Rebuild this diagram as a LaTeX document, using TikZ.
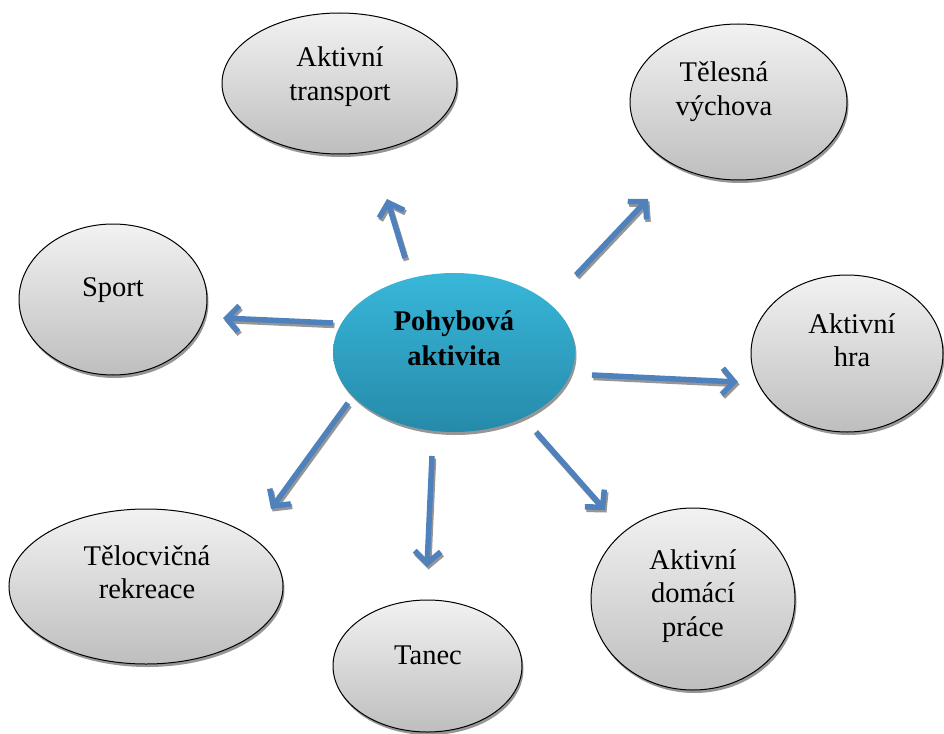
\documentclass[tikz,border=0pt]{standalone}
\usepackage{fontspec}
\setmainfont{Liberation Serif}
\usetikzlibrary{shapes.geometric,shadows,arrows.meta}
\definecolor{ovtop}{RGB}{242,242,242}
\definecolor{ovbot}{RGB}{190,190,190}
\definecolor{ctop}{RGB}{56,183,217}
\definecolor{cbot}{RGB}{38,138,170}
\definecolor{arrblue}{RGB}{79,129,189}
\definecolor{shgray}{RGB}{150,150,150}
\newcommand\mylines[1]{\begin{tabular}[t]{@{}c@{}}#1\end{tabular}}
\begin{document}
\begin{tikzpicture}[x=1pt,y=-1pt,
  oval/.style={ellipse, draw=black, line width=1pt, top color=ovtop, bottom color=ovbot,
    inner sep=0pt, outer sep=0pt,
    drop shadow={shadow xshift=1.5pt, shadow yshift=-3pt, fill=shgray, opacity=1}},
  core/.style={ellipse, draw=none, top color=ctop, bottom color=cbot,
    inner sep=0pt, outer sep=0pt,
    drop shadow={shadow xshift=1.5pt, shadow yshift=-3pt, fill=shgray, opacity=1}},
  lbl/.style={anchor=base, inner sep=0pt, outer sep=0pt, font=\fontsize{28.5}{33.5}\selectfont},
  arr/.style={line width=5.5pt, draw=arrblue, line cap=butt,
    -{Straight Barb[length=12pt,width=26pt]}},
  arrsh/.style={arr, draw=shgray, transform canvas={shift={(1.5pt,-2.5pt)}}}
]
\useasboundingbox (0,0) rectangle (944,733);

% ellipses
\node[oval, minimum width=235pt, minimum height=141pt] (tr) at (339.5,83.5) {};
\node[oval, minimum width=217pt, minimum height=156pt] (tv) at (738.5,102) {};
\node[oval, minimum width=188pt, minimum height=151pt] (sp) at (113,299.5) {};
\node[core, minimum width=242pt, minimum height=159pt] (pa) at (454,352.5) {};
\node[oval, minimum width=192pt, minimum height=157pt] (ah) at (847,353.5) {};
\node[oval, minimum width=274pt, minimum height=155pt] (tc) at (146,586.5) {};
\node[oval, minimum width=189pt, minimum height=132pt] (ta) at (427.5,666) {};
\node[oval, minimum width=204pt, minimum height=182pt] (dp) at (693,599) {};

% labels
\node[lbl] (trl) at (340,67) {\mylines{Aktivní\\transport}};
\node[lbl] (tvl) at (724,82) {\mylines{Tělesná\\výchova}};
\node[lbl] (spl) at (113,296) {Sport};
\node[lbl] (pal) at (454,330) {\bfseries\mylines{Pohybová\\[1.5pt]aktivita}};
\node[lbl] (ahl) at (852,333) {\mylines{Aktivní\\hra}};
\node[lbl] (tcl) at (147,565) {\mylines{Tělocvičná\\rekreace}};
\node[lbl] (tal) at (428,664) {Tanec};
\node[lbl] (dpl) at (693,569) {\mylines{Aktivní\\domácí\\práce}};

% arrow ends
\coordinate (s1) at (405,258); \coordinate (e1) at (387,199);
\coordinate (s2) at (576,275); \coordinate (e2) at (648,199);
\coordinate (s3) at (333,323); \coordinate (e3) at (223,318);
\coordinate (s4) at (592,375); \coordinate (e4) at (738,382);
\coordinate (s5) at (348,403); \coordinate (e5) at (271,509);
\coordinate (s6) at (432,456); \coordinate (e6) at (427,567);
\coordinate (s7) at (536,432); \coordinate (e7) at (605,510);

\foreach \i in {1,...,7} {
  \draw[arrsh] (s\i) -- (e\i);
  \draw[arr] (s\i) -- (e\i);
}
\end{tikzpicture}
\end{document}
